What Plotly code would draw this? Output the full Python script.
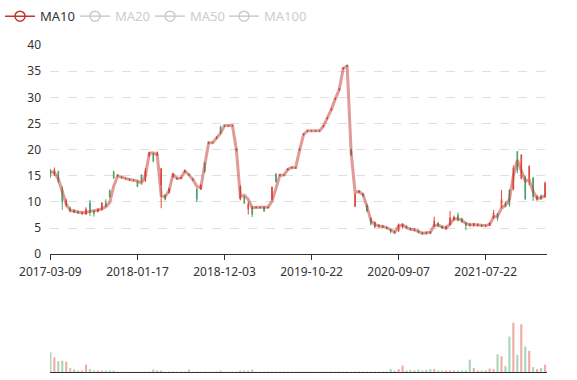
import plotly.graph_objects as go

# ---- data (one candle ~ every two trading weeks) ----
tick_labels = ["2017-03-09", "2018-01-17", "2018-12-03", "2019-10-22", "2020-09-07", "2021-07-22"]
tick_index = [0, 22, 44, 66, 88, 110]
legend_names = ["MA10", "MA20", "MA50", "MA100"]

opens = [16.0, 15.2, 15.8, 12.5, 9.4, 8.9, 8.0, 8.2, 7.8, 7.7,
         9.8, 8.3, 8.2, 8.5, 9.9, 12.2, 15.8, 14.9, 14.8, 14.4,
         14.4, 14.1, 13.9, 15.2, 14.0, 18.8, 19.2, 18.9, 13.3, 11.3,
         11.8, 14.8, 14.6, 14.5, 15.7, 15.3, 14.4, 12.5, 12.5, 17.5,
         21.2, 21.4, 22.2, 24.4, 24.5, 24.6, 24.5, 20.2, 10.5, 11.0,
         8.6, 9.1, 8.9, 9.0, 9.1, 8.9, 10.5, 15.4, 15.0, 15.2,
         16.1, 16.5, 16.6, 19.9, 22.8, 23.5, 23.6, 23.5, 23.6, 24.4,
         25.9, 27.6, 29.6, 31.4, 35.4, 36.1, 20.0, 9.2, 11.8, 11.6,
         9.4, 6.9, 5.2, 5.6, 5.2, 5.2, 4.8, 4.4, 4.4, 5.2,
         5.4, 5.0, 4.6, 4.6, 4.2, 3.9, 4.3, 5.3, 6.0, 5.4,
         4.9, 5.6, 6.6, 7.5, 6.8, 6.0, 5.8, 5.5, 5.5, 5.6,
         5.4, 5.5, 6.9, 7.8, 9.0, 9.8, 12.3, 12.4, 19.6, 14.5,
         14.8, 14.5, 14.6, 10.5, 11.2, 11.0]
closes = [15.0, 16.2, 14.0, 10.0, 10.3, 8.3, 8.4, 7.9, 8.0, 8.6,
          8.0, 7.8, 8.6, 9.8, 9.2, 11.0, 14.6, 15.1, 14.6, 14.5,
          14.2, 14.2, 12.9, 13.9, 16.0, 19.4, 17.8, 19.5, 16.4, 10.5,
          12.5, 15.4, 14.4, 14.7, 16.0, 15.1, 14.2, 10.5, 13.2, 15.8,
          21.4, 21.3, 22.4, 23.2, 24.6, 24.5, 24.6, 19.8, 12.9, 9.8,
          9.6, 7.6, 9.0, 8.9, 8.3, 9.0, 12.8, 13.9, 15.2, 15.1,
          16.3, 16.6, 16.5, 20.1, 23.0, 23.6, 23.5, 23.6, 23.5, 24.6,
          26.1, 27.8, 29.8, 31.6, 35.6, 35.9, 19.0, 11.4, 12.1, 11.2,
          8.3, 5.8, 6.1, 5.3, 5.4, 4.9, 4.3, 4.1, 5.6, 5.8,
          5.0, 4.7, 4.8, 4.2, 3.9, 4.2, 4.0, 6.4, 5.4, 5.0,
          5.3, 7.0, 7.1, 6.5, 6.2, 5.5, 5.5, 5.8, 5.7, 5.4,
          5.5, 6.0, 7.9, 6.8, 10.5, 9.2, 9.4, 16.5, 16.0, 19.0,
          10.6, 16.8, 11.0, 11.0, 10.6, 13.6]
highs = [16.3, 16.6, 16.0, 13.0, 10.6, 9.0, 8.6, 8.3, 8.1, 9.0,
         10.4, 8.4, 8.8, 10.0, 10.5, 12.4, 16.0, 15.3, 14.9, 14.6,
         14.5, 14.3, 14.1, 15.2, 16.5, 19.6, 19.4, 19.6, 16.5, 11.5,
         12.7, 15.6, 14.7, 14.8, 16.1, 15.4, 14.5, 12.6, 13.4, 17.6,
         21.5, 21.5, 22.5, 24.6, 24.7, 24.7, 24.7, 20.3, 13.2, 11.2,
         10.0, 9.2, 9.1, 9.1, 9.1, 9.1, 13.0, 15.4, 15.3, 15.3,
         16.4, 16.7, 16.7, 20.2, 23.1, 23.7, 23.7, 23.7, 23.7, 24.7,
         26.2, 27.9, 29.9, 31.7, 35.7, 36.3, 20.2, 11.6, 12.2, 11.7,
         9.5, 7.0, 6.3, 5.7, 5.5, 5.3, 4.9, 4.5, 5.9, 5.9,
         5.5, 5.1, 4.9, 4.7, 4.3, 4.3, 4.4, 7.2, 6.2, 5.5,
         5.5, 8.3, 7.4, 8.0, 7.0, 6.1, 6.0, 6.0, 5.9, 5.7,
         5.7, 6.1, 8.45, 7.9, 12.3, 10.0, 12.4, 17.0, 19.75, 19.1,
         15.0, 17.0, 14.8, 11.3, 11.4, 13.9]
lows = [14.6, 15.0, 13.6, 8.5, 9.0, 8.0, 7.9, 7.7, 7.5, 7.5,
        7.3, 7.2, 8.0, 8.4, 9.0, 10.8, 14.4, 14.8, 14.5, 14.3,
        14.1, 14.0, 12.9, 13.6, 13.8, 18.6, 17.6, 18.8, 8.8, 10.3,
        11.6, 14.6, 14.3, 14.4, 15.6, 15.0, 14.1, 10.0, 12.3, 15.6,
        21.1, 21.2, 22.1, 23.0, 24.4, 24.4, 24.5, 19.7, 10.3, 9.6,
        7.6, 7.1, 8.8, 8.8, 8.1, 8.8, 10.3, 13.7, 14.9, 15.0,
        16.0, 16.4, 16.4, 19.8, 22.7, 23.4, 23.4, 23.4, 23.4, 24.3,
        25.8, 27.5, 29.5, 31.3, 35.3, 35.8, 18.8, 9.0, 11.7, 11.0,
        8.1, 5.5, 5.1, 5.1, 5.0, 4.8, 4.0, 4.0, 4.3, 4.9,
        4.9, 4.6, 4.4, 4.0, 3.8, 3.8, 3.9, 5.2, 5.2, 4.8,
        4.7, 5.5, 6.4, 6.3, 6.0, 4.6, 5.3, 5.3, 5.3, 5.2,
        5.3, 5.4, 6.8, 6.4, 8.8, 9.0, 9.1, 12.2, 15.5, 14.3,
        10.4, 13.2, 10.2, 10.2, 10.4, 10.8]
ma10 = [15.8, 15.6, 14.4, 12.0, 9.6, 8.4, 8.2, 8.1, 8.0, 8.0,
        8.2, 8.3, 8.45, 8.7, 9.1, 9.9, 13.0, 15.0, 14.7, 14.5,
        14.3, 14.2, 14.0, 13.6, 15.0, 19.3, 19.4, 19.0, 11.2, 11.0,
        12.2, 15.3, 14.5, 14.6, 15.9, 15.2, 14.3, 13.0, 12.7, 17.0,
        21.3, 21.3, 22.3, 23.1, 24.6, 24.6, 24.6, 20.0, 11.0, 11.3,
        10.5, 8.9, 9.0, 9.0, 9.0, 9.0, 10.1, 12.5, 15.1, 15.15,
        16.2, 16.6, 16.6, 20.0, 22.9, 23.6, 23.6, 23.6, 23.6, 24.5,
        26.0, 27.7, 29.7, 31.5, 35.5, 36.0, 19.5, 11.8, 12.0, 11.4,
        9.2, 6.4, 5.7, 5.4, 5.3, 5.1, 4.7, 4.2, 5.4, 5.6,
        5.1, 4.8, 4.7, 4.4, 4.0, 4.1, 4.2, 5.5, 5.6, 5.2,
        5.0, 5.8, 6.8, 6.8, 6.5, 5.9, 5.6, 5.7, 5.6, 5.5,
        5.45, 5.7, 7.1, 7.3, 8.8, 9.4, 10.5, 15.0, 18.0, 16.0,
        14.0, 14.2, 12.0, 10.7, 10.8, 11.2]
volumes = [40, 30, 22, 23, 21, 8, 5, 3, 3, 15,
           6, 3, 3, 2, 1.5, 1, 1, 0.5, 0.5, 0.5,
           0.5, 0.5, 0.5, 0.5, 0.5, 0.5, 5, 1, 2, 0.5,
           0.5, 0.5, 0.5, 0.5, 0.5, 5, 0.5, 0.5, 0.5, 0.5,
           0.5, 0.5, 0.5, 3, 0.5, 0.5, 0.5, 0.5, 1, 1,
           1, 5, 0.5, 0.5, 0.5, 0.5, 0.5, 0.5, 0.5, 0.5,
           0.3, 0.3, 0.3, 0.3, 0.3, 0.3, 0.3, 0.3, 0.3, 0.3,
           0.3, 0.3, 0.3, 0.3, 0.3, 0.3, 0.5, 0.8, 0.5, 0.5,
           0.5, 0.8, 0.8, 0.8, 0.8, 0.8, 6, 2, 6, 13,
           3, 4, 3, 5, 3, 4, 6, 6, 3, 2,
           2, 3, 2, 2, 2, 3, 25, 8, 2, 2,
           2, 7, 6, 36, 32, 12, 72, 100, 35, 97,
           52, 43, 10, 6, 8, 15]

UP = "#e2483a"
DOWN = "#47a36a"
MA_COLOR = "#c23531"
idx = list(range(len(closes)))
vol_colors = [UP if c >= o else DOWN for o, c in zip(opens, closes)]

fig = go.Figure()
fig.add_trace(go.Candlestick(
    x=idx, open=opens, high=highs, low=lows, close=closes,
    increasing=dict(line=dict(color=UP, width=1), fillcolor=UP),
    decreasing=dict(line=dict(color=DOWN, width=1), fillcolor=DOWN),
    whiskerwidth=0, showlegend=False, xaxis="x", yaxis="y", name="K"))
fig.add_trace(go.Scatter(
    x=idx, y=ma10, mode="lines", name="MA10", legendgroup="ma10", showlegend=False,
    line=dict(color="rgba(194,53,49,0.5)", width=3), xaxis="x", yaxis="y"))

# legend entries (MA10 active, the others switched off as in the reference)
legend_ids = ["legend", "legend2", "legend3", "legend4"]
for k, nm in enumerate(legend_names):
    active = (k == 0)
    col = MA_COLOR if active else "#999"
    fig.add_trace(go.Scatter(
        x=[None], y=[None], mode="lines+markers",
        name=nm if active else '<span style="color:#999">%s</span>' % nm,
        legendgroup="ma10" if active else nm, legend=legend_ids[k],
        visible=True if active else "legendonly",
        line=dict(color=col, width=1.5),
        marker=dict(symbol="circle-open", size=10, color=col, line=dict(width=1.5))))

fig.add_trace(go.Bar(
    x=idx, y=volumes, marker=dict(color=vol_colors, line=dict(width=0)),
    opacity=0.45, xaxis="x2", yaxis="y2", showlegend=False, name="Volume"))

PLOT_L, PLOT_W = 50, 497
legend_px = [0, 75, 150, 224]


def legend_cfg(px):
    return dict(orientation="h", x=(px - PLOT_L) / PLOT_W, xanchor="left",
                y=1.134, yanchor="top", font=dict(size=13, color="#333"),
                bgcolor="rgba(0,0,0,0)")


font = "Noto Sans, DejaVu Sans, sans-serif"
fig.update_layout(
    width=577, height=380,
    margin=dict(l=50, r=30, t=45, b=8, autoexpand=False),
    paper_bgcolor="white", plot_bgcolor="white",
    font=dict(family=font, size=12, color="#333"),
    boxgap=0.75, bargap=0.45,
    showlegend=True,
    legend=legend_cfg(legend_px[0]),
    legend2=legend_cfg(legend_px[1]),
    legend3=legend_cfg(legend_px[2]),
    legend4=legend_cfg(legend_px[3]),
    xaxis=dict(domain=[0, 1], anchor="y", range=[-0.1, 125.5],
               tickmode="array", tickvals=tick_index, ticktext=tick_labels,
               ticks="outside", ticklen=5, tickcolor="#333",
               showline=True, linecolor="#333", linewidth=1, automargin=False,
               showgrid=False, zeroline=False, rangeslider=dict(visible=False),
               ticklabelstandoff=1,
               tickfont=dict(size=12, color="#333")),
    yaxis=dict(domain=[0.36, 1], anchor="x", range=[0, 40], dtick=5, tick0=0,
               showgrid=True, gridcolor="#e0e0e0", griddash="dash", gridwidth=1,
               zeroline=False, showline=False, ticks="", ticklabelstandoff=8,
               automargin=False, tickfont=dict(size=12, color="#333")),
    xaxis2=dict(domain=[0, 1], anchor="y2", matches="x", showline=True,
                linecolor="#333", linewidth=1, showticklabels=False, ticks="",
                showgrid=False, zeroline=False, automargin=False,
                rangeslider=dict(visible=False)),
    yaxis2=dict(domain=[0, 0.2], anchor="x2", range=[0, 133], visible=False),
)

fig.write_html("out.html", config={"displayModeBar": False},
               post_script="document.body.style.margin='0';document.body.style.padding='0';")
